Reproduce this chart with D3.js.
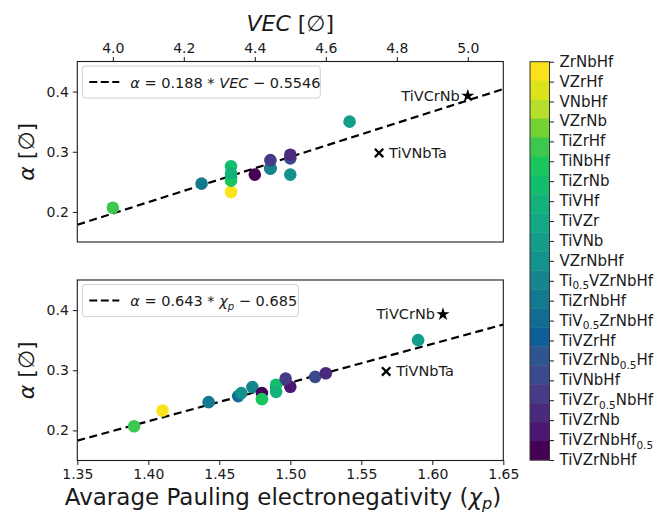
<!DOCTYPE html>
<html><head><meta charset="utf-8">
<script src="https://cdn.jsdelivr.net/npm/d3@7"></script>
<style>
html,body{margin:0;padding:0;background:#fff;}
svg text{font-family:"DejaVu Sans",sans-serif;fill:#1a1a1a;}
</style></head>
<body><svg id="c" width="657" height="514"></svg>
<script>
// ---- data ----
const categories = ["ZrNbHf","VZrHf","VNbHf","VZrNb","TiZrHf","TiNbHf","TiZrNb","TiVHf","TiVZr","TiVNb","VZrNbHf","Ti0.5VZrNbHf","TiZrNbHf","TiV0.5ZrNbHf","TiVZrHf","TiVZrNb0.5Hf","TiVNbHf","TiVZr0.5NbHf","TiVZrNb","TiVZrNbHf0.5","TiVZrNbHf"];
const categoryColors = ["#fbe31b","#dde31a","#b6de2b","#74d232","#3cc84e","#18c65d","#12bd6e","#13b27a","#12a884","#139d8a","#14928c","#15868d","#13798e","#106c90","#0e5f97","#2f5590","#3a4a8c","#453b86","#4a2a7c","#4b1770","#440154"];

const alloys = ["TiZrHf","ZrNbHf","TiZrNbHf","TiVZrNbHf0.5","TiV0.5ZrNbHf","VZrNbHf","Ti0.5VZrNbHf","TiVZrNbHf","TiNbHf","TiZrNb","TiVHf","TiVZr0.5NbHf","TiVNbHf","TiVZrNb","TiVNb"];
const vecValues   = [4.0, 4.333, 4.25, 4.444, 4.333, 4.5, 4.444, 4.4, 4.333, 4.333, 4.333, 4.444, 4.5, 4.5, 4.667];
const chiValues   = [1.39, 1.41, 1.4425, 1.5, 1.4633, 1.4655, 1.4733, 1.48, 1.48, 1.49, 1.49, 1.4967, 1.5175, 1.525, 1.59];
const alphaValues = [0.207, 0.233, 0.247, 0.2725, 0.257, 0.262, 0.272, 0.262, 0.252, 0.276, 0.264, 0.286, 0.289, 0.295, 0.35];

const refNames = ["TiVCrNb","TiVNbTa"];
const refVec   = [5.0, 4.75];
const refChi   = [1.6075, 1.5675];
const refAlpha = [0.393, 0.298];

const vecTicks = [4.0, 4.2, 4.4, 4.6, 4.8, 5.0];
const chiTicks = [1.35, 1.40, 1.45, 1.50, 1.55, 1.60, 1.65];
const alphaTicks = [0.2, 0.3, 0.4];
const fitVec = [0.188, -0.5546];
const fitChi = [0.643, -0.685];

// ---- layout ----
const svg = d3.select("#c");
const L = 77.3, R = 503.3;
const panels = [
  {top: 61.5, bottom: 242, xDomain: [3.9, 5.1], xs: vecValues, refX: refVec, fit: fitVec, ticks: vecTicks, fmt: d3.format(".1f"), axisTop: true},
  {top: 280, bottom: 460.5, xDomain: [1.35, 1.65], xs: chiValues, refX: refChi, fit: fitChi, ticks: chiTicks, fmt: d3.format(".2f"), axisTop: false}
];

function addFormula(t, parts) {
  parts.forEach(p => {
    const s = t.append("tspan").text(p.t);
    if (p.i) s.attr("font-style", "italic");
    if (p.sub) s.attr("font-size", "70%").attr("dy", p.dy);
    if (p.dy && !p.sub) s.attr("dy", p.dy);
  });
}

panels.forEach((p, pi) => {
  const x = d3.scaleLinear().domain(p.xDomain).range([L, R]);
  const y = d3.scaleLinear().domain([0.15, 0.45]).range([p.bottom, p.top]);
  const g = svg.append("g");
  const clipId = "clip" + pi;
  svg.append("clipPath").attr("id", clipId).append("rect")
    .attr("x", L).attr("y", p.top).attr("width", R - L).attr("height", p.bottom - p.top);

  // x axis
  const xa = p.axisTop ? d3.axisTop(x) : d3.axisBottom(x);
  xa.tickValues(p.ticks).tickFormat(p.fmt).tickSize(4.5).tickPadding(4);
  const xg = g.append("g").attr("transform", `translate(0,${p.axisTop ? p.top : p.bottom})`).call(xa);
  xg.select(".domain").remove();
  xg.selectAll("text").attr("font-size", 14).attr("font-family", "DejaVu Sans").attr("fill", "#1a1a1a");
  xg.selectAll("line").attr("stroke", "#1a1a1a").attr("stroke-width", 1);

  // y axis
  const ya = d3.axisLeft(y).tickValues(alphaTicks).tickFormat(d3.format(".1f")).tickSize(4.5).tickPadding(4);
  const yg = g.append("g").attr("transform", `translate(${L},0)`).call(ya);
  yg.select(".domain").remove();
  yg.selectAll("text").attr("font-size", 14).attr("font-family", "DejaVu Sans").attr("fill", "#1a1a1a");
  yg.selectAll("line").attr("stroke", "#1a1a1a").attr("stroke-width", 1);

  // fit line
  const fx = p.xDomain;
  g.append("line").attr("clip-path", `url(#${clipId})`)
    .attr("x1", x(fx[0])).attr("y1", y(p.fit[0] * fx[0] + p.fit[1]))
    .attr("x2", x(fx[1])).attr("y2", y(p.fit[0] * fx[1] + p.fit[1]))
    .attr("stroke", "#000").attr("stroke-width", 2.2).attr("stroke-dasharray", "8,4.5");

  // points
  const pts = alloys.map((a, i) => ({a, x: p.xs[i], y: alphaValues[i]}));
  g.append("g").selectAll("circle").data(pts).join("circle")
    .attr("cx", d => x(d.x)).attr("cy", d => y(d.y)).attr("r", 6.3)
    .attr("fill", d => categoryColors[categories.indexOf(d.a)]);

  // TiVCrNb star
  const sx = x(p.refX[0]), sy = y(refAlpha[0]);
  g.append("path").attr("d", d3.symbol(d3.symbolStar, 55)())
    .attr("transform", `translate(${sx},${sy})`).attr("fill", "#000");
  g.append("text").attr("x", sx - 8).attr("y", sy + 5).attr("text-anchor", "end")
    .attr("font-size", 14.5).text(refNames[0]);

  // TiVNbTa cross
  const cx = x(p.refX[1]), cy = y(refAlpha[1]), h = 4.2;
  g.append("path").attr("d", `M${cx-h},${cy-h}L${cx+h},${cy+h}M${cx-h},${cy+h}L${cx+h},${cy-h}`)
    .attr("stroke", "#000").attr("stroke-width", 2.3);
  g.append("text").attr("x", cx + 10).attr("y", cy + 5).attr("font-size", 14.5).text(refNames[1]);

  // frame
  g.append("rect").attr("x", L).attr("y", p.top).attr("width", R - L).attr("height", p.bottom - p.top)
    .attr("fill", "none").attr("stroke", "#1a1a1a").attr("stroke-width", 1.1);

  // legend
  const lx = L + 5, ly = p.top + 4.5, lw = pi === 0 ? 238 : 216, lh = 32;
  g.append("rect").attr("x", lx).attr("y", ly).attr("width", lw).attr("height", lh).attr("rx", 3)
    .attr("fill", "#fff").attr("fill-opacity", 0.8).attr("stroke", "#d0d0d0").attr("stroke-width", 1);
  g.append("line").attr("x1", lx + 7).attr("x2", lx + 37).attr("y1", ly + lh / 2).attr("y2", ly + lh / 2)
    .attr("stroke", "#000").attr("stroke-width", 2.2).attr("stroke-dasharray", "8,3.5");
  const lt = g.append("text").attr("x", lx + 48).attr("y", ly + lh / 2 + 5.5).attr("font-size", 14.5);
  if (pi === 0) {
    addFormula(lt, [{t: "α", i: true}, {t: " = 0.188 * "}, {t: "VEC", i: true}, {t: " − 0.5546"}]);
  } else {
    addFormula(lt, [{t: "α", i: true}, {t: " = 0.643 * "}, {t: "χ", i: true}, {t: "p", i: true, sub: true, dy: 4}, {t: " − 0.685", dy: -4}]);
  }

  // y label
  const yc = (p.top + p.bottom) / 2;
  const yl = svg.append("text").attr("transform", `translate(34,${yc}) rotate(-90)`)
    .attr("text-anchor", "middle").attr("font-size", 22);
  addFormula(yl, [{t: "α", i: true}, {t: " [∅]"}]);
});

// top title
const tt = svg.append("text").attr("x", (L + R) / 2).attr("y", 31).attr("text-anchor", "middle").attr("font-size", 22);
addFormula(tt, [{t: "VEC", i: true}, {t: " [∅]"}]);

// bottom x label
const bl = svg.append("text").attr("x", 283).attr("y", 505).attr("text-anchor", "middle").attr("font-size", 23);
addFormula(bl, [{t: "Avarage Pauling electronegativity ("}, {t: "χ", i: true}, {t: "p", i: true, sub: true, dy: 4}, {t: ")", dy: -4}]);

// ---- colorbar ----
const cbX = 530, cbW = 19.5, cbTop = 61.7, cbBot = 460;
const band = d3.scaleBand().domain(categories).range([cbTop, cbBot]).padding(0);
const cb = svg.append("g");
cb.selectAll("rect.b").data(categories).join("rect").attr("class", "b")
  .attr("x", cbX).attr("y", d => band(d)).attr("width", cbW).attr("height", band.bandwidth() + 0.4)
  .attr("fill", (d, i) => categoryColors[i]);
cb.append("rect").attr("x", cbX).attr("y", cbTop).attr("width", cbW).attr("height", cbBot - cbTop)
  .attr("fill", "none").attr("stroke", "#333").attr("stroke-width", 1);
const tickY = d3.scalePoint().domain(categories).range([cbTop, cbBot]);
const ca = d3.axisRight(tickY).tickSize(4.5).tickPadding(4).tickFormat("");
const cg = cb.append("g").attr("transform", `translate(${cbX + cbW},0)`).call(ca);
cg.select(".domain").remove();
cg.selectAll("line").attr("stroke", "#1a1a1a");
cb.selectAll("text.lab").data(categories).join("text").attr("class", "lab")
  .attr("x", cbX + cbW + 10).attr("y", d => tickY(d) + 5).attr("font-size", 15)
  .each(function(d) {
    const t = d3.select(this);
    const parts = d.split(/(0\.5)/).filter(s => s.length);
    let sub = false;
    parts.forEach(s => {
      if (s === "0.5") {
        t.append("tspan").text(s).attr("font-size", "70%").attr("dy", 3.5);
        sub = true;
      } else {
        const ts = t.append("tspan").text(s);
        if (sub) { ts.attr("dy", -3.5); sub = false; }
      }
    });
  });
</script></body></html>
